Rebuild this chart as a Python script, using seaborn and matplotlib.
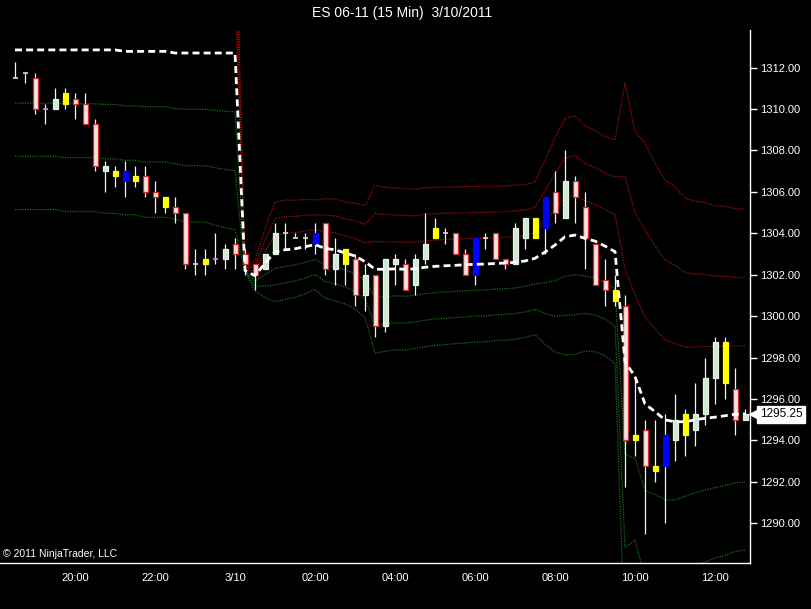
import numpy as np
import pandas as pd
import matplotlib
matplotlib.use('Agg')
import matplotlib.pyplot as plt
import matplotlib.transforms as mtransforms
import seaborn as sns

# ---- data --------------------------------------------------------------
title = 'ES 06-11 (15 Min)  3/10/2011'
bar_times = pd.date_range('2011-03-09 18:30', '2011-03-10 12:45', freq='15min')

opens = [1311.5, 1311.75, 1311.5, 1310.0, 1310.0, 1310.25, 1310.5, 1310.25, 1309.25, 1307.0,
         1307.0, 1307.0, 1306.75, 1306.75, 1306.0, 1305.75, 1305.25, 1305.0, 1302.5, 1302.75,
         1302.75, 1302.75, 1303.5, 1303.0, 1302.5, 1302.25, 1303.0, 1304.0, 1303.75, 1303.75,
         1303.5, 1304.5, 1302.25, 1303.25, 1302.75, 1301.0, 1302.0, 1299.5, 1302.5, 1302.5,
         1301.5, 1302.75, 1303.75, 1304.0, 1304.0, 1303.0, 1302.0, 1303.75, 1304.0, 1302.75,
         1302.5, 1303.75, 1303.75, 1304.25, 1306.0, 1304.75, 1306.5, 1305.25, 1303.5, 1301.75,
         1301.25, 1300.5, 1294.0, 1294.5, 1292.75, 1292.75, 1294.0, 1294.25, 1294.5, 1295.25,
         1297.0, 1298.75, 1296.5, 1295.0]
highs = [1312.25, 1311.75, 1311.75, 1310.25, 1311.0, 1311.0, 1310.75, 1310.75, 1309.5, 1307.5,
         1307.25, 1307.5, 1307.25, 1307.25, 1306.5, 1305.75, 1305.75, 1305.0, 1303.25, 1303.25,
         1304.0, 1303.5, 1303.75, 1303.25, 1302.5, 1303.0, 1304.5, 1304.5, 1304.0, 1304.0,
         1304.5, 1304.5, 1303.75, 1303.25, 1303.0, 1302.5, 1302.0, 1302.75, 1303.0, 1302.75,
         1303.0, 1305.0, 1304.75, 1304.25, 1304.0, 1303.25, 1303.75, 1304.0, 1304.0, 1302.75,
         1304.5, 1304.75, 1304.75, 1305.75, 1307.0, 1308.0, 1306.75, 1306.0, 1303.5, 1302.75,
         1302.0, 1301.0, 1297.0, 1295.0, 1295.0, 1295.25, 1296.25, 1295.5, 1296.75, 1298.0,
         1299.0, 1299.0, 1297.5, 1295.5]
lows = [1311.5, 1311.25, 1309.75, 1309.25, 1310.0, 1310.0, 1309.5, 1309.25, 1307.0, 1306.0,
        1306.25, 1305.75, 1306.25, 1305.75, 1305.0, 1305.0, 1304.5, 1302.25, 1302.0, 1302.0,
        1302.5, 1302.25, 1302.25, 1302.0, 1301.25, 1302.25, 1303.0, 1303.25, 1303.75, 1303.25,
        1303.0, 1302.0, 1301.5, 1301.5, 1300.5, 1300.25, 1299.0, 1299.25, 1301.5, 1301.25,
        1301.0, 1302.5, 1303.75, 1303.5, 1303.0, 1302.0, 1301.5, 1303.25, 1302.75, 1302.25,
        1302.5, 1303.25, 1303.75, 1303.0, 1304.5, 1304.75, 1304.5, 1302.25, 1301.5, 1300.5,
        1300.5, 1291.75, 1293.25, 1289.5, 1292.0, 1290.0, 1293.0, 1293.25, 1293.75, 1294.75,
        1295.75, 1296.0, 1294.25, 1295.0]
closes = [1311.5, 1311.75, 1310.0, 1310.0, 1310.5, 1310.75, 1310.25, 1309.25, 1307.25, 1307.25,
          1306.75, 1306.5, 1306.5, 1306.0, 1305.75, 1305.25, 1305.0, 1302.5, 1302.5, 1302.5,
          1302.75, 1303.25, 1303.0, 1302.5, 1302.0, 1303.0, 1304.0, 1304.0, 1303.75, 1303.75,
          1304.0, 1302.25, 1303.0, 1302.5, 1301.0, 1302.0, 1299.5, 1302.75, 1302.75, 1301.25,
          1302.75, 1303.5, 1304.25, 1304.0, 1303.0, 1302.0, 1303.75, 1303.75, 1302.75, 1302.5,
          1304.25, 1304.75, 1304.75, 1305.75, 1305.0, 1306.5, 1305.75, 1303.75, 1301.5, 1301.25,
          1300.75, 1294.0, 1294.25, 1292.75, 1292.5, 1294.25, 1295.0, 1295.25, 1295.25, 1297.0,
          1298.75, 1296.75, 1295.0, 1295.25]
# u = up, d = down, y / b = highlighted bars, n = doji, p = purple doji
bar_kinds = ['n', 'n', 'd', 'p', 'u', 'y', 'd', 'd', 'd', 'u',
             'y', 'b', 'y', 'd', 'd', 'y', 'd', 'd', 'n', 'y',
             'p', 'u', 'd', 'd', 'd', 'u', 'u', 'n', 'n', 'n',
             'b', 'd', 'u', 'y', 'd', 'u', 'd', 'u', 'u', 'd',
             'u', 'u', 'y', 'n', 'd', 'd', 'b', 'n', 'd', 'd',
             'u', 'u', 'y', 'b', 'd', 'u', 'd', 'd', 'd', 'd',
             'y', 'd', 'y', 'd', 'y', 'b', 'u', 'y', 'u', 'u',
             'u', 'y', 'd', 'u']

vwap = [1312.85, 1312.85, 1312.85, 1312.85, 1312.85, 1312.85, 1312.85, 1312.85, 1312.85, 1312.85,
        1312.85, 1312.78, 1312.78, 1312.78, 1312.78, 1312.78, 1312.7, 1312.7, 1312.7, 1312.7,
        1312.7, 1312.7, 1312.7, 1302.2, 1301.95, 1302.55, 1303.1, 1303.2, 1303.25, 1303.35,
        1303.45, 1303.27, 1303.2, 1303.05, 1302.9, 1302.63, 1302.26, 1302.26, 1302.28, 1302.26,
        1302.28, 1302.36, 1302.4, 1302.43, 1302.45, 1302.48, 1302.5, 1302.51, 1302.54, 1302.56,
        1302.6, 1302.66, 1302.79, 1303.09, 1303.43, 1303.83, 1303.91, 1303.75, 1303.62, 1303.38,
        1303.11, 1297.8, 1297.08, 1295.76, 1295.39, 1294.99, 1294.9, 1294.9, 1294.99, 1295.07,
        1295.12, 1295.19, 1295.26, 1295.28]
band_sd = [2.57, 2.57, 2.57, 2.57, 2.57, 2.6, 2.6, 2.6, 2.6, 2.63,
           2.63, 2.63, 2.63, 2.67, 2.67, 2.67, 2.67, 2.72, 2.72, 2.72,
           2.77, 2.81, 2.84, 0.0, 0.25, 0.55, 0.8, 0.8, 0.78, 0.76,
           0.72, 0.8, 0.82, 0.82, 0.85, 0.9, 1.35, 1.32, 1.3, 1.3,
           1.28, 1.28, 1.27, 1.27, 1.26, 1.26, 1.25, 1.25, 1.24, 1.24,
           1.24, 1.23, 1.23, 1.48, 1.72, 1.9, 1.92, 1.81, 1.78, 1.76,
           1.8, 4.48, 3.95, 4.2, 4.0, 3.86, 3.78, 3.6, 3.52, 3.47,
           3.4, 3.37, 3.31, 3.29]

tick_times = ['2011-03-09 20:00', '2011-03-09 22:00', '2011-03-10 00:00', '2011-03-10 02:00',
              '2011-03-10 04:00', '2011-03-10 06:00', '2011-03-10 08:00', '2011-03-10 10:00',
              '2011-03-10 12:00']
tick_labels = ['20:00', '22:00', '3/10', '02:00', '04:00', '06:00', '08:00', '10:00', '12:00']
price_ticks = [1290, 1292, 1294, 1296, 1298, 1300, 1302, 1304, 1306, 1308, 1310, 1312]
last_price = 1295.25

# ---- styling ------------------------------------------------------------
sns.set_style('dark', {'axes.facecolor': 'black', 'figure.facecolor': 'black'})
plt.rcParams['font.family'] = ['Liberation Sans', 'DejaVu Sans']

origin = pd.Timestamp('2011-03-10 00:00')
step = pd.Timedelta('15min')
x = np.array([(t - origin) / step for t in bar_times])
o, h, l, c = map(np.array, (opens, highs, lows, closes))
vw = np.array(vwap)
sd = np.array(band_sd)

fig = plt.figure(figsize=(8.11, 6.09), dpi=100)
fig.patch.set_facecolor('black')
ax = fig.add_axes([0.0, 0.0755, 0.9248, 0.8752])
ax.set_facecolor('black')

# standard deviation bands
for n in (1, 2, 3):
    sns.lineplot(x=x, y=vw + n * sd, ax=ax, color='#a50f0f', lw=0.9,
                 linestyle=(0, (1, 1)), zorder=1)
    sns.lineplot(x=x, y=vw - n * sd, ax=ax, color='#1c701c', lw=0.9,
                 linestyle=(0, (1, 1)), zorder=1)

# candles
body_w = 0.5
face = {'u': '#cfe9cf', 'd': '#f6e4e4', 'y': '#ffff00', 'b': '#0000ff'}
edge = {'u': '#e6f3e6', 'd': '#d42a2a', 'y': '#ffff00', 'b': '#0000ff'}
ax.vlines(x, l, h, color='#f2f2f2', lw=0.9, zorder=2)
for xi, oi, ci, k in zip(x, o, c, bar_kinds):
    if k in ('n', 'p'):
        ax.hlines(oi, xi - body_w / 2, xi + body_w / 2,
                  color='#c890e0' if k == 'p' else '#f0d0e0', lw=1.2, zorder=3)
    else:
        ax.bar(xi, abs(ci - oi), bottom=min(oi, ci), width=body_w,
               color=face[k], edgecolor=edge[k], linewidth=0.9, zorder=3)

# vwap
sns.lineplot(x=x, y=vw, ax=ax, color='white', lw=2.0,
             linestyle=(0, (2.5, 1.5)), zorder=4)

# axes
ax.set_xlim(-23.5, 51.5)
ax.set_ylim(1288.08, 1313.81)
ax.set_xticks([(pd.Timestamp(t) - origin) / step for t in tick_times])
ax.set_xticklabels(tick_labels)
ax.set_yticks(price_ticks)
ax.set_yticklabels([f'{p:.2f}' for p in price_ticks])
ax.yaxis.tick_right()
ax.tick_params(axis='both', colors='white', labelcolor='white', labelsize=8,
               direction='out', length=5, width=1, pad=2)
ax.grid(False)
for side in ('left', 'top'):
    ax.spines[side].set_visible(False)
for side in ('right', 'bottom'):
    ax.spines[side].set_visible(True)
    ax.spines[side].set_color('white')
    ax.spines[side].set_linewidth(1)
ax.set_xlabel('')
ax.set_ylabel('')

# last price marker
trans = mtransforms.blended_transform_factory(ax.transAxes, ax.transData)
ax.plot([1.007], [last_price], marker='<', ms=9, color='white', mec='white',
        transform=trans, clip_on=False)
ax.text(1.013, last_price, f'{last_price:.2f}', transform=trans, ha='left', va='center',
        fontsize=8.5, color='black', clip_on=False,
        bbox=dict(boxstyle='square,pad=0.22', fc='white', ec='white'))

ax.text(0.004, 0.008, '\u00a9 2011 NinjaTrader, LLC', transform=ax.transAxes,
        fontsize=7.5, color='white', ha='left', va='bottom')
fig.text(0.496, 0.978, title, ha='center', va='center', fontsize=10, color='white')

fig.savefig('out.png', dpi=100, facecolor='black')
